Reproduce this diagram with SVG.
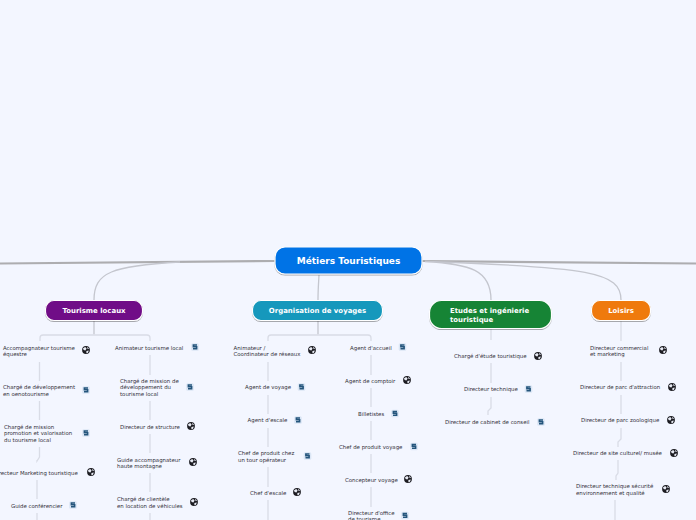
<svg xmlns="http://www.w3.org/2000/svg" width="696" height="520" viewBox="0 0 696 520">
<style>
text{font-family:"DejaVu Sans",Verdana,sans-serif}
.t{font-size:5.42px;fill:#33333c}
.h{font-size:6.95px;font-weight:700;fill:#fff}
.c{text-anchor:middle}
.b{stroke:#fff;stroke-width:1.2;filter:url(#sh)}
.m{fill:none;stroke:#adadb0}
.l{fill:none;stroke:#d9dce6;stroke-width:1.3}
.k{fill:none;stroke:#c4c6ce;stroke-width:1.3}
</style>
<defs>
<filter id="sh" x="-10%" y="-20%" width="120%" height="150%"><feDropShadow dx="0" dy="0.8" stdDeviation="0.7" flood-color="#444" flood-opacity="0.55"/></filter>
<g id="g"><circle r="3.9" fill="#1c1c22"/><path d="M-3-1.8L-0.8-3 0.6-1.4-0.6 0.6-2.4 0ZM0.4 1L2.8 0.4 2 2.8 0.4 3.2ZM1-3.2L3.2-1.6 1.6-1Z" fill="#e8ebf4"/></g>
<g id="s"><rect x="-3.8" y="-3.8" width="7.6" height="7.6" rx="1.5" fill="#dbe6f5"/><path d="M2-2H-1.6V-0.2H1.6V1.8H-2" fill="none" stroke="#24557c" stroke-width="1.6"/></g>
</defs>
<rect width="696" height="520" fill="#f3f6ff"/>
<g id="connectors">
<path class="m" stroke-width="2.2" d="M275 261C180 261 90 262 0 263.500"/>
<path class="m" stroke-width="2.2" d="M422 261C520 262 610 263 696 263.500"/>
<path class="k" d="M180 262C112 266 94 272 94 300M319 275C318.500 284 318 290 318 300M425 261.500C470 264 491 270 491 300M425 261.500C590 267 621 272 621 300"/>
<path class="k" d="M94 321V334.500M318 321V334.500"/>
<path class="l" d="M40 341V338Q40 335 43 335H147Q150 335 150 338V341M268 341V338Q268 335 271 335H368Q371 335 371 338V341"/>
<path class="l" d="M491 329V340M621 321V341"/>
<path class="l" d="M39.500 362V381M39.500 401V420M39.500 447V457L37 461V460M37 480V499M37 513V520"/>
<path class="l" d="M150 355V375M150 401V420M150 434V453M150 473V492M150 513V520"/>
<path class="l" d="M268 362V381M268 395V414M268 428V447M268 467V487M268 500V520"/>
<path class="l" d="M371 355V375M371 388V407M371 421V440M371 454V473M371 487V507"/>
<path class="l" d="M491 363V383M491 397V408L488 411V415"/>
<path class="l" d="M621 362V381M621 395V414M621 428V439L618 442V447M618 460V473L616 476V480M615 500V520"/>
</g>
<g id="root"><rect class="b" x="275" y="247" width="147" height="27" rx="10" fill="#0073e6"/><text x="348.500" y="264" class="c" font-size="9" font-weight="700" fill="#fff">Métiers Touristiques</text></g>
<g id="n-tourisme"><rect class="b" x="45.500" y="300.500" width="97" height="20" rx="8.500" fill="#6f0a87"/><text x="94" y="313" class="h c">Tourisme locaux</text></g>
<g id="n-organisation"><rect class="b" x="252.500" y="300.500" width="130" height="20" rx="8.500" fill="#1398bc"/><text x="317.500" y="313" class="h c">Organisation de voyages</text></g>
<g id="n-etudes"><rect class="b" x="429.500" y="300.500" width="122" height="28" rx="12" fill="#178435"/><text x="450" y="313" class="h">Etudes et ingénierie</text><text x="450" y="322" class="h">touristique</text></g>
<g id="n-loisirs"><rect class="b" x="591.500" y="300.500" width="59" height="20" rx="8.500" fill="#ef7a0c"/><text x="621" y="313" class="h c">Loisirs</text></g>

<g id="a1"><text class="t" x="3" y="350">Accompagnateur tourisme</text><text class="t" x="3" y="356">équestre</text><use href="#g" x="86" y="350"/></g>
<g id="a2"><text class="t" x="3" y="389">Chargé de développement</text><text class="t" x="3" y="396">en oenotourisme</text><use href="#s" x="86" y="390"/></g>
<g id="a3"><text class="t" x="4" y="429">Chargé de mission</text><text class="t" x="4" y="435">promotion et valorisation</text><text class="t" x="4" y="442">du tourisme local</text><use href="#s" x="86" y="433"/></g>
<g id="a4"><text class="t" x="-7" y="475">Directeur Marketing touristique</text><use href="#g" x="91" y="472"/></g>
<g id="a5"><text class="t" x="11" y="508">Guide conférencier</text><use href="#s" x="73" y="505"/></g>
<g id="b1"><text class="t" x="115" y="350">Animateur tourisme local</text><use href="#s" x="195" y="347"/></g>
<g id="b2"><text class="t" x="120" y="383">Chargé de mission de</text><text class="t" x="120" y="389">développement du</text><text class="t" x="120" y="396">tourisme local</text><use href="#s" x="190" y="387"/></g>
<g id="b3"><text class="t" x="120" y="429">Directeur de structure</text><use href="#g" x="191" y="426"/></g>
<g id="b4"><text class="t" x="117" y="462">Guide accompagnateur</text><text class="t" x="117" y="468">haute montagne</text><use href="#g" x="193" y="462"/></g>
<g id="b5"><text class="t" x="117" y="501">Chargé de clientèle</text><text class="t" x="117" y="508">en location de véhicules</text><use href="#g" x="194" y="502"/></g>

<g id="c1"><text class="t" x="233.500" y="350">Animateur /</text><text class="t" x="233.500" y="356">Coordinateur de réseaux</text><use href="#g" x="312" y="350"/></g>
<g id="c2"><text class="t" x="245" y="389">Agent de voyage</text><use href="#s" x="301.500" y="387"/></g>
<g id="c3"><text class="t" x="247.500" y="422">Agent d'escale</text><use href="#s" x="298" y="420"/></g>
<g id="c4"><text class="t" x="238" y="455">Chef de produit chez</text><text class="t" x="238" y="462">un tour opérateur</text><use href="#s" x="307.500" y="456"/></g>
<g id="c5"><text class="t" x="250" y="495">Chef d'escale</text><use href="#g" x="297" y="492"/></g>
<g id="d1"><text class="t" x="350" y="350">Agent d'accueil</text><use href="#s" x="402.500" y="347"/></g>
<g id="d2"><text class="t" x="345" y="383">Agent de comptoir</text><use href="#g" x="407" y="380"/></g>
<g id="d3"><text class="t" x="358" y="416">Billetistes</text><use href="#s" x="395" y="413.500"/></g>
<g id="d4"><text class="t" x="339" y="449">Chef de produit voyage</text><use href="#s" x="414" y="446.500"/></g>
<g id="d5"><text class="t" x="345" y="482">Concepteur voyage</text><use href="#g" x="408" y="479"/></g>
<g id="d6"><text class="t" x="348" y="515">Directeur d'office</text><text class="t" x="348" y="521">de tourisme</text><use href="#s" x="405" y="515.500"/></g>

<g id="e1"><text class="t" x="454" y="358">Chargé d'étude touristique</text><use href="#g" x="538" y="356"/></g>
<g id="e2"><text class="t" x="464" y="391">Directeur technique</text><use href="#s" x="528.500" y="389"/></g>
<g id="e3"><text class="t" x="445" y="424">Directeur de cabinet de conseil</text><use href="#s" x="541" y="422"/></g>

<g id="f1"><text class="t" x="590" y="350">Directeur commercial</text><text class="t" x="590" y="356">et marketing</text><use href="#g" x="663" y="350"/></g>
<g id="f2"><text class="t" x="580" y="389">Directeur de parc d'attraction</text><use href="#g" x="672" y="387"/></g>
<g id="f3"><text class="t" x="581" y="422">Directeur de parc zoologique</text><use href="#g" x="671" y="420"/></g>
<g id="f4"><text class="t" x="573" y="455">Directeur de site culturel/ musée</text><use href="#g" x="674" y="453"/></g>
<g id="f5"><text class="t" x="576" y="488">Directeur technique sécurité</text><text class="t" x="576" y="495">environnement et qualité</text><use href="#g" x="666" y="489"/></g>
</svg>
